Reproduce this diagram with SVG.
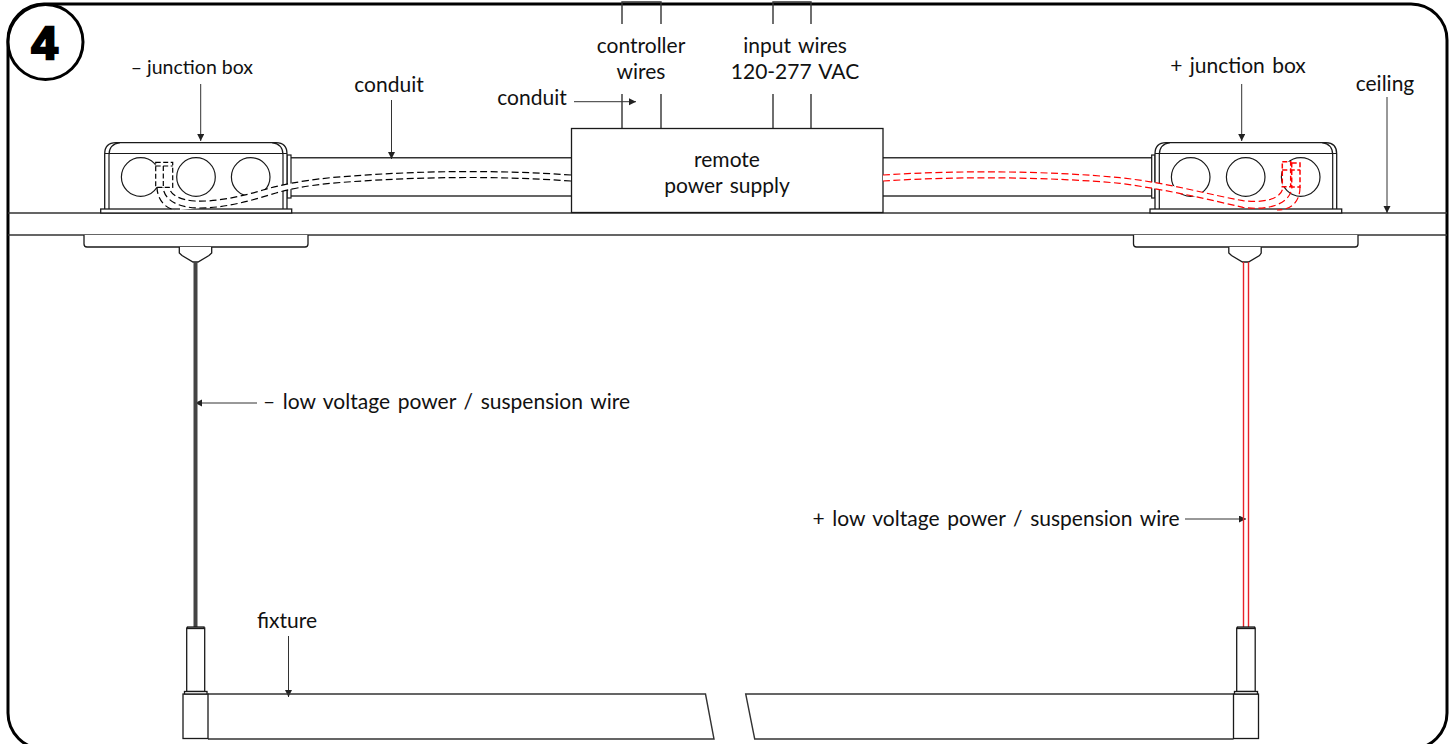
<svg xmlns="http://www.w3.org/2000/svg" width="1453" height="744" viewBox="0 0 1453 744">
<defs>
<style>
.l{fill:none;stroke:#1a1a1a;stroke-width:1.2}
.g{fill:none;stroke:#333;stroke-width:1.4}
.b{fill:#fff;stroke:#1a1a1a;stroke-width:1.3}
.a{fill:none;stroke:#333;stroke-width:1}
.d{fill:none;stroke:#000;stroke-width:1.2;stroke-dasharray:7 3.5}
.r{fill:none;stroke:#f00;stroke-width:1.2;stroke-dasharray:7 3.5}
.w{fill:#fff;stroke:none}
.t{font-family:"Lato","Liberation Sans",sans-serif;font-size:21px;font-weight:400;fill:#111;text-anchor:middle;word-spacing:2px}
</style>
<marker id="ah" markerWidth="8" markerHeight="8" refX="7" refY="3.5" orient="auto" markerUnits="userSpaceOnUse"><path d="M0 0L7 3.5L0 7z" fill="#222"/></marker>
</defs>
<rect id="bg" width="1453" height="744" fill="#fff"/>
<g id="frame"><rect x="8" y="4" width="1439" height="745" rx="36" ry="36" fill="#fff" stroke="#000" stroke-width="3"/></g>
<g id="badge"><circle cx="45.5" cy="42" r="37.5" fill="#fff" stroke="#000" stroke-width="3"/><text x="44.5" y="59" style="font-family:'Liberation Sans',sans-serif;font-weight:700;font-size:47px;text-anchor:middle;stroke:#000;stroke-width:2.6;fill:#000">4</text></g>
<g id="ceiling"><path class="g" d="M8 213H1447M8 235H1447"/></g>
<g id="conduit-left"><path class="g" d="M291 157.7H571M291 196H571"/></g>
<g id="conduit-right"><path class="g" d="M883 157.7H1152M883 196H1152"/></g>
<g id="controller-conduit"><path class="g" d="M622 24V2H661V24M622 94V128M661 94V128"/></g>
<g id="input-conduit"><path class="g" d="M773 24V2H811V24M773 94V128M811 94V128"/></g>
<g id="supply"><rect class="b" x="571.5" y="128.5" width="311.5" height="84"/><text class="t" x="727" y="167">remote</text><text class="t" x="727" y="193">power supply</text></g>
<g id="box-left">
<rect class="l" x="287" y="155" width="4" height="43"/>
<path class="b" d="M104.7 209V154Q104.7 142.7 116 142.7H276Q287 142.7 287 154V209"/>
<path class="l" d="M109 209V155Q109 144 120 142.7M283 209V155Q283 144 272 142.7M105 153.5H287"/>
<circle class="l" cx="140.7" cy="177" r="19.3"/><circle class="l" cx="196" cy="177" r="19.3"/><circle class="l" cx="250.7" cy="177" r="19.3"/>
<rect class="b" x="100.7" y="209" width="191" height="4"/>
</g>
<g id="box-right">
<rect class="l" x="1151.7" y="155" width="3.3" height="43"/>
<path class="b" d="M1155 209V154Q1155 142.7 1166 142.7H1326Q1336.7 142.7 1336.7 154V209"/>
<path class="l" d="M1159.3 209V155Q1159.3 144 1170 142.7M1332.7 209V155Q1332.7 144 1322 142.7M1155 153.5H1336.7"/>
<circle class="l" cx="1190.7" cy="177" r="19.3"/><circle class="l" cx="1245.7" cy="177" r="19.3"/><circle class="l" cx="1300.7" cy="177" r="19.3"/>
<rect class="b" x="1150" y="209" width="191.7" height="4"/>
</g>
<g id="connectors">
<path class="w" d="M571 175C500 170 420 170 330 177.7C300 181 275 186 263 190C235 198 215 201 193 201L180 208L180 210L200 208C225 208 250 201 276 193C295 187 310 185 330 183.3C420 176 500 176 571 181Z"/>
<path class="w" d="M883 175C960 170 1050 171 1120 177.7C1170 183 1210 195 1243 200.7L1267 200.7L1283 200L1283 207L1243 207.3C1210 200 1170 190 1120 183.3C1050 177 960 176 883 181Z"/>
<rect class="w" x="155.7" y="162.3" width="17" height="25"/>
<rect class="w" x="1282.3" y="161.7" width="17.7" height="25"/>
<path class="d" d="M571 175C500 170 420 170 330 177.7C300 181 280 185 263 190C240 197 215 202 195 201C180 200 170 195 169.3 187"/>
<path class="d" d="M571 181C500 176 420 176 330 183.3C305 186 290 189 276 193C250 201 225 208 200 208C178 208 164 200 163 187"/>
<path class="d" d="M157 187C157 198 164 208 175 210"/>
<path class="d" style="stroke-dasharray:5 2.5" d="M155.7 162.3H172.7V187.3H155.7ZM163.3 166V187.3M155.7 166H172.7"/>
<path class="r" d="M883 175C960 170 1050 171 1120 177.7C1170 183 1210 195 1243 200.7C1262 203 1282 200 1283 186.7"/>
<path class="r" d="M883 181C960 176 1050 177 1120 183.3C1170 190 1210 200 1243 207.3C1268 211 1291 204 1292 186.7"/>
<path class="r" d="M1300 187C1300 200 1293 210 1277 210"/>
<path class="r" style="stroke-dasharray:5 2.5;stroke-width:1.5" d="M1282.3 161.7H1290.7V186.7H1282.3ZM1291.7 163H1300V187H1291.7ZM1282.3 170H1300"/>
<path class="a" marker-end="url(#ah)" d="M200.7 84V141"/>
<path class="a" marker-end="url(#ah)" d="M391.5 100V159"/>
<path class="a" marker-end="url(#ah)" d="M574 101.7H636"/>
<path class="a" marker-end="url(#ah)" d="M1241.7 84V141"/>
<path class="a" marker-end="url(#ah)" d="M1387 97V213"/>
<path class="a" marker-end="url(#ah)" d="M257 403H195"/>
<path class="a" marker-end="url(#ah)" d="M1185 519H1246"/>
<path class="a" marker-end="url(#ah)" d="M288.5 636V697"/>
</g>
<g id="mount-left">
<path class="b" d="M84 235V244Q84 247 87 247H305Q308 247 308 244V235"/>
<path class="b" d="M179.3 247V253L182 255.5L193 262H198L209 255.5L211.7 253V247"/>
<rect x="193.5" y="262" width="4" height="366" fill="#444"/>
</g>
<g id="mount-right">
<path class="b" d="M1133.5 235V244Q1133.5 247 1136.5 247H1355Q1358 247 1358 244V235"/>
<path class="b" d="M1229.3 247V253L1232 255.5L1243 262H1249L1260 255.5L1261.7 253V247" transform="translate(-0.5 0)"/>
<path d="M1243.5 262V628M1248.5 262V628" fill="none" stroke="#e8222a" stroke-width="1.4"/>
</g>
<g id="fixture-left">
<path class="g" d="M208 694H705.5L714 739H208"/>
<rect class="b" x="183" y="694" width="25" height="44.5"/>
<rect class="b" x="186.7" y="628" width="18" height="63.5"/>
<rect class="b" x="187.5" y="627" width="16.5" height="1.5"/>
<rect class="b" x="184.5" y="691.5" width="22.5" height="2.5"/>
</g>
<g id="fixture-right">
<path class="g" d="M1233.5 694H745.7L754.7 739H1233.5"/>
<rect class="b" x="1233.5" y="694" width="25" height="44.5"/>
<rect class="b" x="1236.7" y="628" width="18.5" height="63.5"/>
<rect class="b" x="1237.5" y="627" width="17" height="1.5"/>
<rect class="b" x="1234.5" y="691.5" width="23" height="2.5"/>
</g>
<g id="labels">
<text class="t" x="253" y="74" style="text-anchor:end;font-size:19.5px;word-spacing:0">– junction box</text>
<text class="t" x="389" y="92">conduit</text>
<text class="t" x="641" y="53">controller</text>
<text class="t" x="641" y="79">wires</text>
<text class="t" x="532" y="105">conduit</text>
<text class="t" x="795" y="53">input wires</text>
<text class="t" x="795" y="79">120-277 VAC</text>
<text class="t" x="1238" y="73">+ junction box</text>
<text class="t" x="1385" y="91">ceiling</text>
<text class="t" x="446.5" y="409" style="word-spacing:2.3px">– low voltage power / suspension wire</text>
<text class="t" x="996" y="526" style="word-spacing:2.3px">+ low voltage power / suspension wire</text>
<text class="t" x="287" y="628">fixture</text>
</g>
</svg>
